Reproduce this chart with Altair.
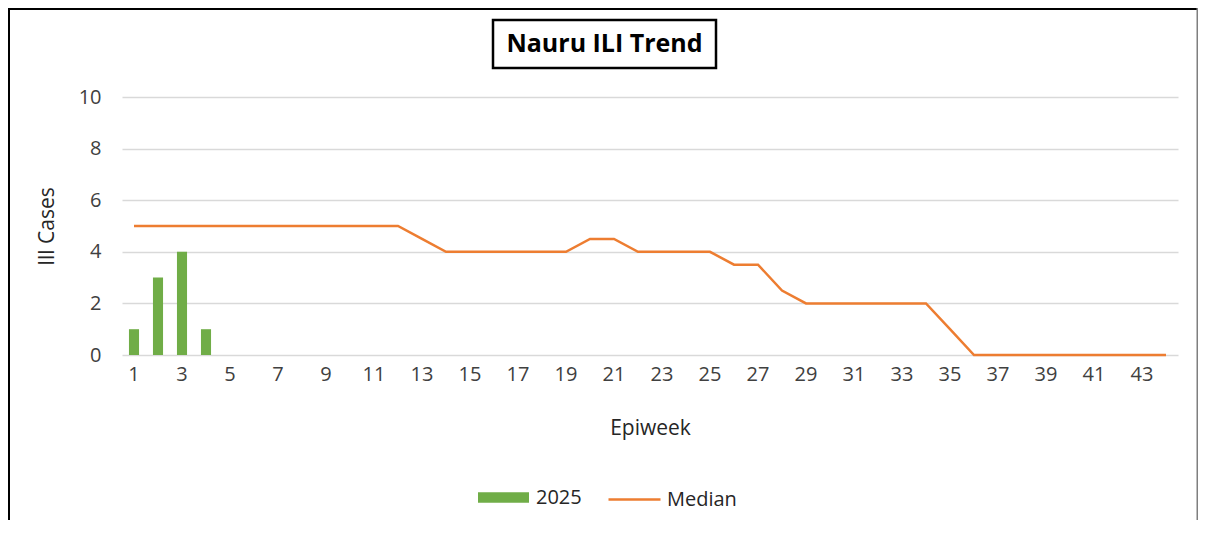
import altair as alt
import pandas as pd

weeks = [1, 2, 3, 4, 5, 6, 7, 8, 9, 10, 11, 12, 13, 14, 15, 16, 17, 18, 19, 20, 21, 22,
         23, 24, 25, 26, 27, 28, 29, 30, 31, 32, 33, 34, 35, 36, 37, 38, 39, 40, 41, 42, 43, 44]
median = [5, 5, 5, 5, 5, 5, 5, 5, 5, 5, 5, 5, 4.5, 4, 4, 4, 4, 4, 4, 4.5, 4.5, 4,
          4, 4, 4, 3.5, 3.5, 2.5, 2, 2, 2, 2, 2, 2, 1, 0, 0, 0, 0, 0, 0, 0, 0, 0]
case_weeks = [1, 2, 3, 4]
cases_2025 = [1, 3, 4, 1]
x_labels = [1, 3, 5, 7, 9, 11, 13, 15, 17, 19, 21, 23, 25, 27, 29, 31, 33, 35, 37, 39, 41, 43]
y_ticks = [0, 2, 4, 6, 8, 10]
title_text = "Nauru ILI Trend"

FONT = "Open Sans"
W, H = 1056, 258
PAD = {"left": 114, "top": 89, "right": 20, "bottom": 165}

bars_df = pd.DataFrame({"week": case_weeks, "cases": cases_2025, "series": ["2025"] * 4})
line_df = pd.DataFrame({"week": weeks, "value": median, "series": ["Median"] * len(weeks)})
one = pd.DataFrame({"a": [0]})

x_enc = alt.X(
    "week:O",
    scale=alt.Scale(domain=weeks, paddingInner=0.58, paddingOuter=0.29),
    axis=alt.Axis(
        values=x_labels, labelAngle=0, title="Epiweek", domain=False, ticks=False,
        labelPadding=9, labelFontSize=20, labelColor="#404040", labelFont=FONT,
        titleFontSize=21, titleFont=FONT, titleFontWeight="normal", titleColor="#262626",
        titleX=528, titleY=73, titleBaseline="middle", titleAlign="center",
        grid=False,
    ),
)

y_scale = alt.Scale(domain=[0, 10], nice=False)
y_axis = alt.Axis(
    values=y_ticks, title="Ill Cases", domain=False, ticks=False, labelPadding=21,
    labelFontSize=20, labelColor="#404040", labelFont=FONT,
    titleFontSize=21, titleFont=FONT, titleFontWeight="normal", titleColor="#262626",
    titleX=-75, titleY=129, titleAngle=-90, titleBaseline="middle", titleAlign="center",
    grid=True, gridColor="#d9d9d9", gridWidth=1.5,
)

bars = alt.Chart(bars_df).mark_bar().encode(
    x=x_enc,
    y=alt.Y("cases:Q", scale=y_scale, axis=y_axis),
    fill=alt.Fill(
        "series:N",
        scale=alt.Scale(domain=["2025"], range=["#70AD47"]),
        legend=alt.Legend(
            title=None, orient="none", legendX=356, legendY=375,
            symbolType="M-1,-0.21H1V0.21H-1Z", symbolSize=2601, symbolStrokeWidth=0,
            labelFontSize=20, labelFont=FONT, labelColor="#262626", labelOffset=7,
            padding=0,
        ),
    ),
)

line = alt.Chart(line_df).mark_line(strokeWidth=2.5).encode(
    x=alt.X("week:O"),
    y=alt.Y("value:Q", scale=y_scale),
    stroke=alt.Stroke(
        "series:N",
        scale=alt.Scale(domain=["Median"], range=["#ED7D31"]),
        legend=alt.Legend(
            title=None, orient="none", legendX=485, legendY=375,
            symbolType="stroke", symbolSize=2704, symbolStrokeWidth=2.5,
            labelFontSize=20, labelFont=FONT, labelColor="#262626", labelOffset=5,
            padding=0,
        ),
    ),
)

title_box = alt.Chart(one).mark_rect(fill="white", stroke="black", strokeWidth=2.5).encode(
    x=alt.value(371), x2=alt.value(594), y=alt.value(-77), y2=alt.value(-29)
)
title_label = alt.Chart(one).mark_text(
    text=title_text, font=FONT, fontSize=25, fontWeight="bold", color="black",
    align="center", baseline="middle",
).encode(x=alt.value(482.5), y=alt.value(-53))

frame_top = alt.Chart(one).mark_rule(color="black", strokeWidth=4).encode(
    x=alt.value(-114), x2=alt.value(1076), y=alt.value(-89)
)
frame_left = alt.Chart(one).mark_rule(color="black", strokeWidth=4).encode(
    x=alt.value(-114), y=alt.value(-89), y2=alt.value(423)
)
frame_right = alt.Chart(one).mark_rule(color="#7f7f7f", strokeWidth=3).encode(
    x=alt.value(1076), y=alt.value(-89), y2=alt.value(423)
)

chart = alt.layer(
    bars, line, title_box, title_label, frame_top, frame_left, frame_right
).properties(
    width=W, height=H,
    autosize=alt.AutoSizeParams(type="none"),
    padding=PAD,
    background="white",
).configure_view(stroke=None)

chart.save("out.html", embed_options={"renderer": "svg", "actions": False})
